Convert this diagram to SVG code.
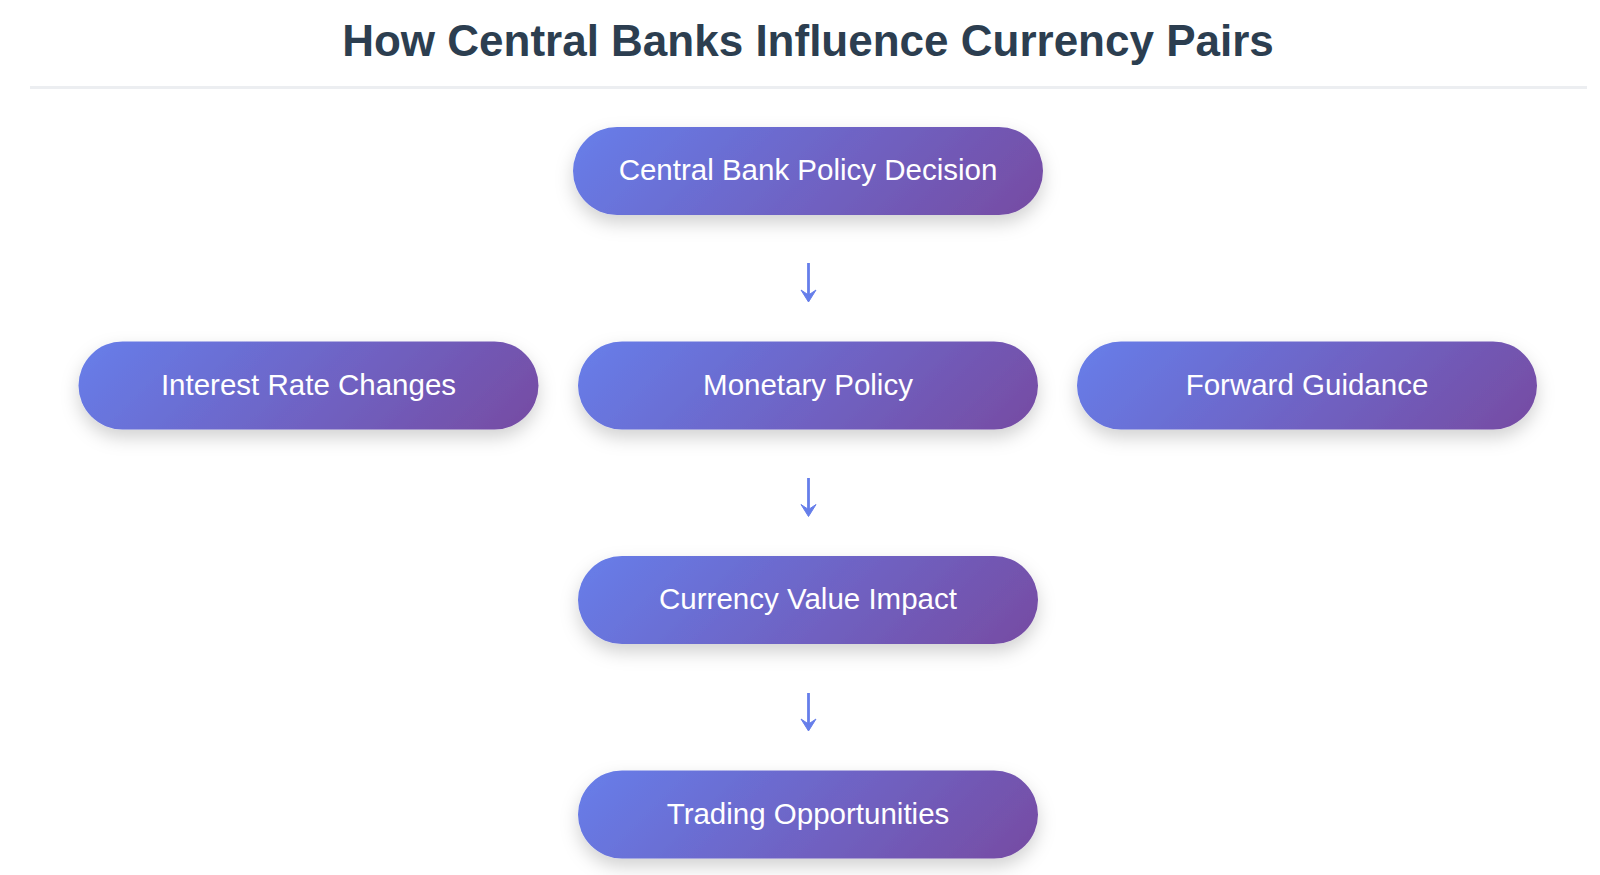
<svg xmlns="http://www.w3.org/2000/svg" width="1600" height="875" viewBox="0 0 1600 875">
<defs>
<linearGradient id="g" x1="93" y1="-93" x2="367" y2="181" gradientUnits="userSpaceOnUse">
<stop offset="0" stop-color="#667eea"/>
<stop offset="1" stop-color="#764ba2"/>
</linearGradient>
<linearGradient id="g1" x1="95" y1="-95" x2="375" y2="183" gradientUnits="userSpaceOnUse">
<stop offset="0" stop-color="#667eea"/>
<stop offset="1" stop-color="#764ba2"/>
</linearGradient>
<filter id="sh" x="-20%" y="-40%" width="140%" height="200%">
<feDropShadow dx="0" dy="8" stdDeviation="9" flood-color="#000" flood-opacity="0.18"/>
</filter>
<style>
.title{font-family:"Liberation Sans",Arial,sans-serif;font-weight:bold;font-size:44px;fill:#2c3e50;text-anchor:middle}
.node rect{fill:url(#g);filter:url(#sh)}
#n1 rect{fill:url(#g1)}
.node text{font-family:"Liberation Sans",Arial,sans-serif;font-size:29.5px;fill:#fff;text-anchor:middle}
.conn path{stroke:#667eea;stroke-width:2.8;fill:none}
.conn polygon{fill:#667eea;stroke:#667eea;stroke-width:1;stroke-linejoin:round}
</style>
</defs>
<rect width="1600" height="875" fill="#fff"/>
<text class="title" x="808" y="56">How Central Banks Influence Currency Pairs</text>
<rect x="30" y="86" width="1557" height="3" fill="#eceef1"/>
<g id="connectors" class="conn">
<path d="M808.5,263 V300"/><polygon points="801,290 808.5,302 816,290 808.5,295"/>
<path d="M808.5,478 V514"/><polygon points="801,504.5 808.5,516.5 816,504.5 808.5,509.5"/>
<path d="M808.5,693 V729"/><polygon points="801,719 808.5,731 816,719 808.5,724"/>
</g>
<g id="n1" class="node" transform="translate(573,127)"><rect width="470" height="88" rx="44"/><text x="235" y="53">Central Bank Policy Decision</text></g>
<g id="n2" class="node" transform="translate(78.5,341.5)"><rect width="460" height="88" rx="44"/><text x="230" y="53">Interest Rate Changes</text></g>
<g id="n3" class="node" transform="translate(578,341.5)"><rect width="460" height="88" rx="44"/><text x="230" y="53">Monetary Policy</text></g>
<g id="n4" class="node" transform="translate(1077,341.5)"><rect width="460" height="88" rx="44"/><text x="230" y="53">Forward Guidance</text></g>
<g id="n5" class="node" transform="translate(578,556)"><rect width="460" height="88" rx="44"/><text x="230" y="53">Currency Value Impact</text></g>
<g id="n6" class="node" transform="translate(578,770.5)"><rect width="460" height="88" rx="44"/><text x="230" y="53">Trading Opportunities</text></g>
</svg>
